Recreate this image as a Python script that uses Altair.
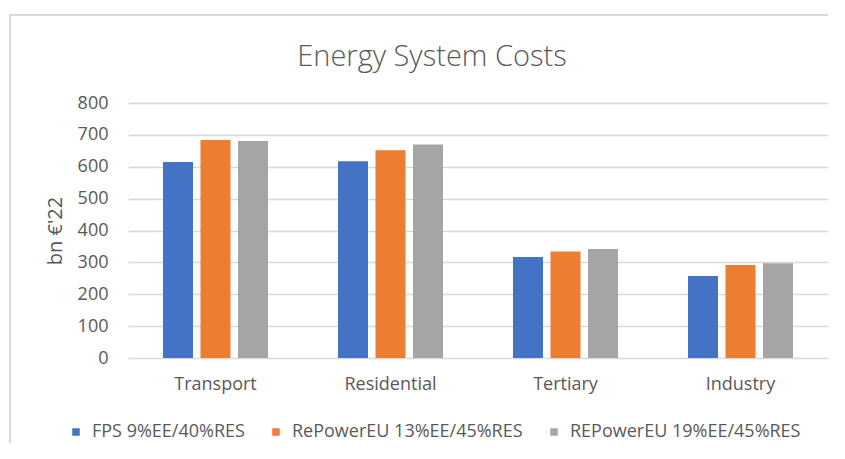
import altair as alt
import pandas as pd

categories = ["Transport", "Residential", "Tertiary", "Industry"]
series = ["FPS 9%EE/40%RES", "RePowerEU 13%EE/45%RES", "REPowerEU 19%EE/45%RES"]
fps = [615, 617, 317, 257]
repower13 = [684, 652, 334, 292]
repower19 = [681, 670, 342, 297]
colors = ["#4472C4", "#ED7D31", "#A5A5A5"]
y_ticks = [0, 100, 200, 300, 400, 500, 600, 700, 800]

rows = []
for s, vals in zip(series, [fps, repower13, repower19]):
    for c, v in zip(categories, vals):
        rows.append({"category": c, "scenario": s, "value": v})
df = pd.DataFrame(rows)

FONT = "Open Sans"
TXT = "#595959"
GRID = "#d9d9d9"

bars = alt.Chart(df).mark_bar().encode(
    x=alt.X(
        "category:N",
        sort=categories,
        scale=alt.Scale(paddingInner=0.4, paddingOuter=0.2),
        axis=alt.Axis(title=None, labelAngle=0, domain=False, ticks=False,
                      labelPadding=17, labelFontSize=18, labelColor=TXT, labelFont=FONT),
    ),
    xOffset=alt.XOffset("scenario:N", sort=series,
                        scale=alt.Scale(paddingInner=0.2, paddingOuter=0)),
    y=alt.Y(
        "value:Q",
        scale=alt.Scale(domain=[0, 800], nice=False),
        axis=alt.Axis(values=y_ticks, title="bn €'22", domain=False, ticks=False,
                      labelPadding=20, labelFontSize=18, labelColor=TXT, labelFont=FONT,
                      titleFontSize=20, titleColor=TXT, titleFont=FONT, titleFontWeight="normal",
                      titlePadding=12, gridColor=GRID, gridWidth=1.5),
    ),
    color=alt.Color(
        "scenario:N",
        sort=series,
        scale=alt.Scale(domain=series, range=colors),
        legend=alt.Legend(title=None, orient="none", direction="horizontal",
                          legendX=-61, legendY=320, symbolType="square", symbolSize=56,
                          symbolStrokeWidth=0, labelFontSize=18, labelColor=TXT, labelFont=FONT,
                          labelOffset=7, columnPadding=22, labelLimit=400),
    ),
)

frame = alt.Chart(alt.Data(values=[{}])).mark_rect(
    fill="white", fillOpacity=0, stroke=GRID, strokeWidth=2
).encode(x=alt.value(-118), x2=alt.value(730), y=alt.value(-88), y2=alt.value(380))

chart = alt.layer(frame, bars).properties(
    width=700,
    height=255,
    title=alt.TitleParams("Energy System Costs", fontSize=29, font=FONT, fontWeight=300,
                          color=TXT, dx=-46, offset=-58),
    autosize=alt.AutoSizeParams(type="none"),
    padding={"left": 120, "top": 95, "right": 0, "bottom": 85},
).configure_view(stroke=None)

chart.save("out.html", embed_options={"renderer": "svg", "actions": False})
